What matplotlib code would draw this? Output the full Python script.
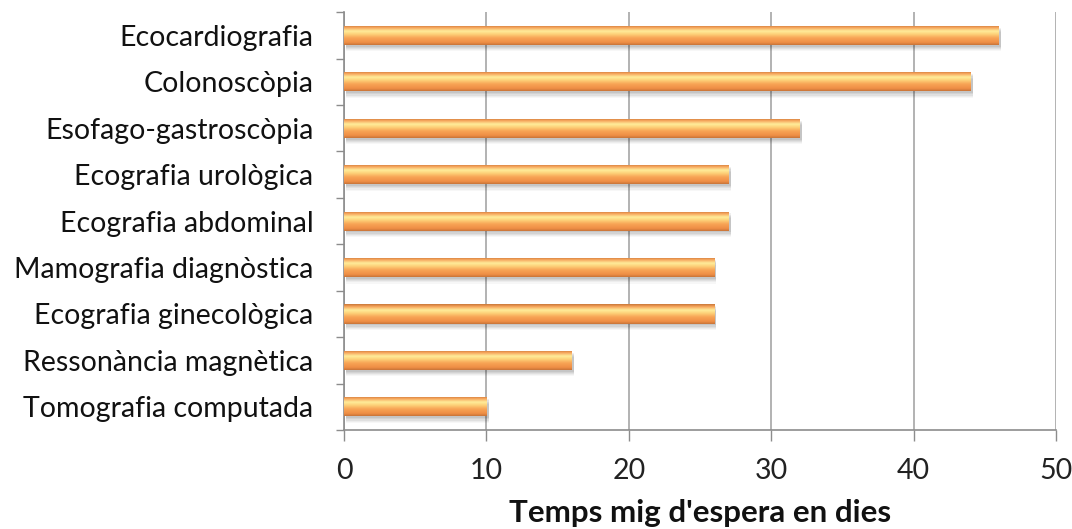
import matplotlib
matplotlib.use("Agg")
import matplotlib.pyplot as plt
import numpy as np
from matplotlib.colors import LinearSegmentedColormap

categories = ["Ecocardiografia", "Colonoscòpia", "Esofago-gastroscòpia",
              "Ecografia urològica", "Ecografia abdominal", "Mamografia diagnòstica",
              "Ecografia ginecològica", "Ressonància magnètica", "Tomografia computada"]
values = [46, 44, 32, 27, 27, 26, 26, 16, 10]
xticks = [0, 10, 20, 30, 40, 50]
xlabel = "Temps mig d'espera en dies"

plt.rcParams['font.family'] = ['Lato', 'DejaVu Sans']

fig = plt.figure(figsize=(10.72, 5.29), dpi=100)
ax = fig.add_axes([0.321, 0.187, 0.664, 0.790])

n = len(categories)
ypos = np.arange(n)[::-1]
h = 0.41

# shadow
for k, a in enumerate([0.06, 0.06, 0.05, 0.04, 0.03]):
    off = 0.04 + k * 0.025
    ax.barh(ypos - off, values, height=h, color='black', alpha=a, zorder=2,
            linewidth=0, left=0.15)

grad = LinearSegmentedColormap.from_list("g", [
    (0.0, "#C8783A"), (0.12, "#F6A35A"), (0.30, "#FFEC9A"), (0.45, "#FDD27A"),
    (0.65, "#F8A455"), (0.88, "#EE8E45"), (1.0, "#C87438")])
gimg = np.linspace(0, 1, 100).reshape(-1, 1)

bars = ax.barh(ypos, values, height=h, color='#F79646', zorder=3, linewidth=0)
for b in bars:
    x0, y0 = b.get_x(), b.get_y()
    w, hh = b.get_width(), b.get_height()
    im = ax.imshow(gimg, cmap=grad, aspect='auto', zorder=4,
                   extent=[x0, x0 + w, y0, y0 + hh], origin='upper',
                   interpolation='bilinear')
    im.set_clip_path(b)

ax.set_xlim(0, 50)
ax.set_ylim(-0.5, n - 0.5)
ax.set_xticks(xticks)
ax.set_xticklabels([str(t) for t in xticks], fontsize=20.5, color='#222222')
ax.set_yticks(ypos)
ax.set_yticklabels(categories, fontsize=20.5, color='#111111')
ax.tick_params(axis='y', length=0, pad=22)
ax.set_yticks(np.arange(n + 1) - 0.5, minor=True)
ax.tick_params(axis='y', which='minor', length=6, color='#8c8c8c', width=1)
ax.tick_params(axis='x', length=8, color='#8c8c8c', width=1, pad=12)

ax.grid(axis='x', color='#a6a6a6', linewidth=1.2, zorder=0)
ax.set_axisbelow(True)
for s in ['top', 'right']:
    ax.spines[s].set_visible(False)
for s in ['left', 'bottom']:
    ax.spines[s].set_color('#8c8c8c')
    ax.spines[s].set_linewidth(1.2)

ax.set_xlabel(xlabel, fontsize=22.5, fontweight='bold', labelpad=11, color='#111111')

fig.savefig("out.png", dpi=100)
